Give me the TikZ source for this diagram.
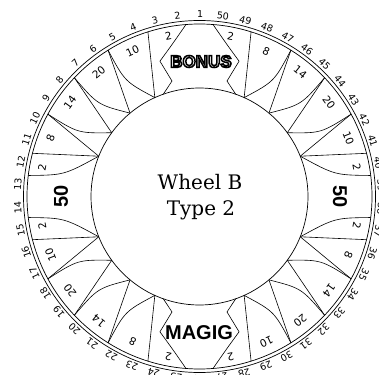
\documentclass[tikz,border=0pt]{standalone}
\usepackage{fontspec}
\setmainfont{DejaVu Serif}
\newfontfamily\numfont{DejaVu Sans}
\newfontfamily\boldsans{Liberation Sans}
\newcommand\outlinetext[1]{\special{pdf:literal direct q 2 Tr 1.5 w 0 G 1 g}#1\special{pdf:literal direct Q}}
\begin{document}
\begin{tikzpicture}[x=1pt,y=1pt,
  rim/.style={line width=0.7pt},
  seg/.style={line width=0.6pt},
  rimnum/.style={font=\numfont\fontsize{9.5}{11}\selectfont, inner sep=0pt},
  seglabel/.style={font=\numfont\fontsize{10.5}{12}\selectfont, inner sep=0pt},
  biglabel/.style={font=\boldsans\bfseries\fontsize{20}{22}\selectfont, inner sep=0pt},
  title/.style={font=\fontsize{20}{22}\selectfont, inner sep=0pt, anchor=base}
]
\useasboundingbox (-199.5,-177.5) rectangle (179.5,196.5);
\def\Ro{172.5}
\def\Rh{108.5}
\newcommand\quadlines{%
  \draw[seg] (107.4:\Ro) -- (114.3:\Rh);
  \draw[seg] (122:\Ro) -- (129.8:\Rh);
  \draw[seg] (136.5:\Ro) -- (144:\Rh);
  \draw[seg] (151.5:\Ro) -- (158.2:\Rh);
  \draw[seg] (165.5:\Ro) -- (158.2:\Rh);
  \draw[seg] (122:\Ro) .. controls (123:137) .. (114.3:\Rh);
  \draw[seg] (136.5:\Ro) .. controls (138:137) .. (129.8:\Rh);
  \draw[seg] (151.5:\Ro) .. controls (152.5:137) .. (144:\Rh);
  \draw[seg] (173:\Ro) .. controls (171:137) .. (158.2:\Rh);
  \draw[seg] (94.5:\Ro) .. controls (100:155) .. (106.3:141) -- (103.4:118.7) -- (109.5:\Rh);
}
% rims and hub
\draw[rim] (0,0) circle (176);
\draw[rim] (0,0) circle (172.5);
\draw[rim] (0,0) circle (\Rh);
% segment boundaries
\begin{scope}\quadlines\end{scope}
\begin{scope}[xscale=-1]\quadlines\end{scope}
\begin{scope}[rotate=180]\quadlines\end{scope}
\begin{scope}[rotate=180,xscale=-1]\quadlines\end{scope}
% rim numbers
\foreach \k in {1,...,50}{
  \pgfmathsetmacro\ang{89.8+(\k-1)*7.2}
  \node[rimnum, rotate=\ang-90] (n\k) at (\ang:182) {\k};
}
% segment labels
\foreach \a/\t/\r [count=\i] in {101/2/163, 114.7/10/160, 129/20/160, 144/14/160, 158.5/8/160, 169.5/2/160,
  79/2/163, 65.3/8/160, 51/14/160, 36/20/160, 21.5/10/160, 10.5/2/160,
  281/2/163, 294.7/10/160, 309/20/160, 324/14/160, 338.5/8/160, 349.5/2/160,
  259/2/163, 245.3/8/160, 231/14/160, 216/20/160, 201.5/10/160, 190.5/2/160}{
  \node[seglabel, rotate=\a-90] (s\i) at (\a:\r) {\t};
}
% big labels
\node[font=\boldsans\bfseries\fontsize{17}{20}\selectfont, inner sep=0pt] (bonus) at (1.5,135)
  {\outlinetext{BONUS}};
\node[biglabel] (magig) at (-0.5,-136.5) {MAGIG};
\node[biglabel, rotate=90] (fiftyL) at (-138.5,0) {50};
\node[biglabel, rotate=-90] (fiftyR) at (140.5,0) {50};
\node[title] (t1) at (0.5,6.5) {Wheel B};
\node[title] (t2) at (1.5,-19.5) {Type 2};
\end{tikzpicture}
\end{document}
